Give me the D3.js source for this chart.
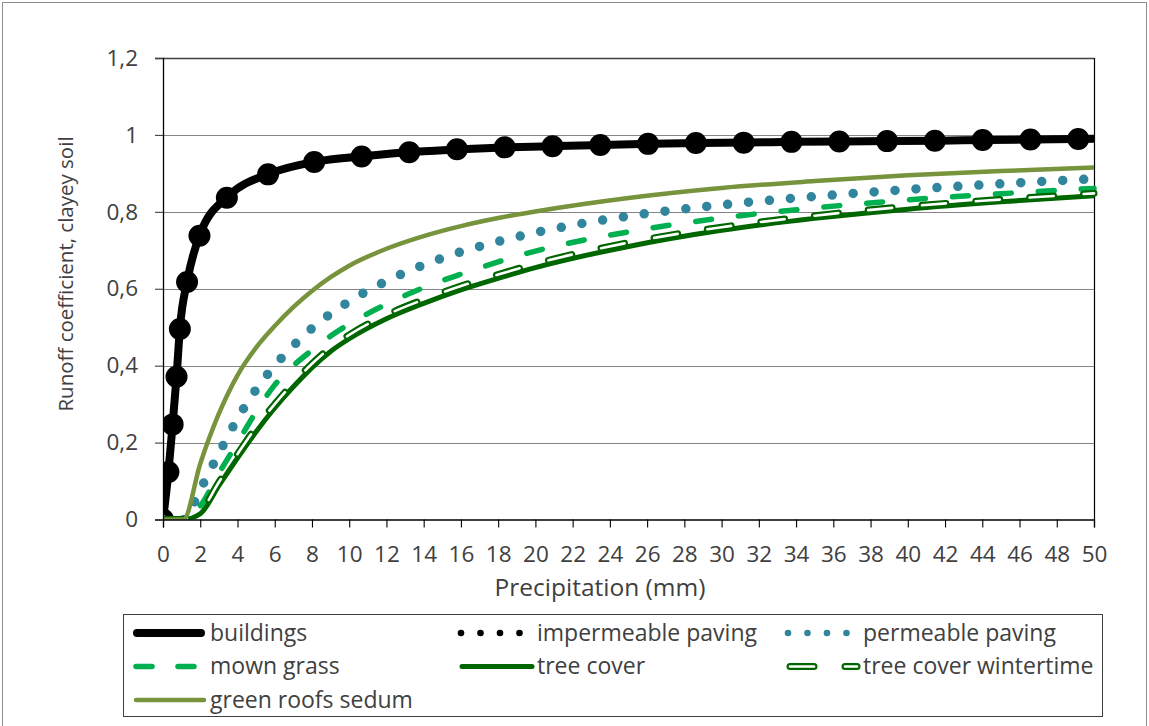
<!DOCTYPE html>
<html><head><meta charset="utf-8">
<script src="https://cdn.jsdelivr.net/npm/d3@7"></script>
<style>
html,body{margin:0;padding:0;background:#fff;}
svg{display:block;font-family:"Open Sans",sans-serif;}
</style></head>
<body>
<svg id="chart" width="1149" height="726"></svg>
<script>
// ---- data ----
const buildingsX = [0, 0.29, 0.52, 0.73, 0.91, 1.31, 1.99, 3.54, 5.78, 8.29, 10.9, 13.5, 16, 18.6, 21.2, 23.7, 26.3, 28.8, 31.4, 33.9, 36.5, 39.1, 41.7, 44.2, 46.8, 50];
const buildingsY = [0, 0.123, 0.249, 0.373, 0.498, 0.622, 0.742, 0.842, 0.900, 0.931, 0.945, 0.956, 0.963, 0.968, 0.971, 0.974, 0.977, 0.979, 0.980, 0.982, 0.983, 0.984, 0.985, 0.987, 0.988, 0.990];
const impermeableY = buildingsY.slice();
const precip = [0, 1.1, 2, 3, 4, 5, 6, 7, 8, 9, 10, 12, 14, 16, 18, 20, 25, 30, 35, 40, 45, 50];
const permeableY = [0, 0, 0.078, 0.172, 0.262, 0.338, 0.40, 0.452, 0.497, 0.535, 0.567, 0.62, 0.662, 0.696, 0.723, 0.746, 0.789, 0.818, 0.84, 0.858, 0.873, 0.886];
const grassY = [0, 0, 0.035, 0.12, 0.20, 0.28, 0.35, 0.40, 0.44, 0.477, 0.508, 0.56, 0.603, 0.638, 0.67, 0.698, 0.748, 0.784, 0.81, 0.831, 0.847, 0.861];
const treeY = [0, 0, 0.015, 0.088, 0.16, 0.228, 0.29, 0.345, 0.395, 0.437, 0.47, 0.522, 0.562, 0.597, 0.627, 0.655, 0.71, 0.752, 0.783, 0.807, 0.826, 0.842];
const winterY = [0, 0, 0.02, 0.097, 0.17, 0.24, 0.30, 0.355, 0.405, 0.447, 0.48, 0.532, 0.572, 0.607, 0.637, 0.665, 0.72, 0.76, 0.79, 0.814, 0.832, 0.848];
const sedumY = [0, 0, 0.145, 0.275, 0.375, 0.447, 0.503, 0.552, 0.594, 0.63, 0.66, 0.704, 0.737, 0.763, 0.784, 0.801, 0.836, 0.862, 0.88, 0.895, 0.906, 0.915];
const xTicks = d3.range(0, 51, 2);
const yTicks = [0, 0.2, 0.4, 0.6, 0.8, 1, 1.2];
const yTickLabels = ["0", "0,2", "0,4", "0,6", "0,8", "1", "1,2"];
const legendNames = ["buildings", "impermeable paving", "permeable paving", "mown grass", "tree cover", "tree cover wintertime", "green roofs sedum"];

// ---- layout ----
const svg = d3.select("#chart");
const L = 163, R = 1094, T = 58, B = 519.5;
const x = d3.scaleLinear().domain([0, 50]).range([L, R]);
const y = d3.scaleLinear().domain([0, 1.2]).range([B, T]);
const txt = "#404040";

svg.append("rect").attr("x", 2.5).attr("y", 2.5).attr("width", 1144).attr("height", 740)
  .attr("fill", "#fff").attr("stroke", "#8c8c8c").attr("stroke-width", 1);

// gridlines
svg.append("g").selectAll("line").data(yTicks.filter(d => d > 0)).join("line")
  .attr("x1", L).attr("x2", R).attr("y1", d => Math.round(y(d)) + 0.5).attr("y2", d => Math.round(y(d)) + 0.5)
  .attr("stroke", d => d === 1.2 ? "#404040" : "#868686").attr("stroke-width", d => d === 1.2 ? 1.5 : 1.2);
// right border
svg.append("line").attr("x1", R + 0.5).attr("x2", R + 0.5).attr("y1", T).attr("y2", B).attr("stroke", "#000").attr("stroke-width", 1.2);

svg.append("defs").append("clipPath").attr("id", "clip").append("rect")
  .attr("x", L).attr("y", 30).attr("width", R - L + 12).attr("height", B - 30);
const plot = svg.append("g").attr("clip-path", "url(#clip)");

const lineXY = (xs, ys) => d3.line().x((d, i) => x(xs[i])).y(d => y(d)).curve(d3.curveMonotoneX)(ys);

// buildings
plot.append("path").attr("d", lineXY(buildingsX, buildingsY)).attr("fill", "none")
  .attr("stroke", "#000").attr("stroke-width", 8).attr("stroke-linejoin", "round");
// impermeable paving (big round dots)
plot.append("path").attr("d", lineXY(buildingsX, impermeableY)).attr("fill", "none")
  .attr("stroke", "#000").attr("stroke-width", 22).attr("stroke-linecap", "round").attr("stroke-dasharray", "0 47.8");
// permeable paving
plot.append("path").attr("d", lineXY(precip, permeableY)).attr("fill", "none")
  .attr("stroke", "#31859c").attr("stroke-width", 9.5).attr("stroke-linecap", "round").attr("stroke-dasharray", "0 21");
// mown grass
plot.append("path").attr("d", lineXY(precip, grassY)).attr("fill", "none")
  .attr("stroke", "#00b050").attr("stroke-width", 5.5).attr("stroke-linecap", "round").attr("stroke-dasharray", "16 27");
// tree cover
plot.append("path").attr("d", lineXY(precip, treeY)).attr("fill", "none")
  .attr("stroke", "#006600").attr("stroke-width", 5).attr("stroke-linejoin", "round");
// tree cover wintertime (hollow dashes)
plot.append("path").attr("d", lineXY(precip, winterY)).attr("fill", "none")
  .attr("stroke", "#006600").attr("stroke-width", 7).attr("stroke-linecap", "round").attr("stroke-dasharray", "24 30");
plot.append("path").attr("d", lineXY(precip, winterY)).attr("fill", "none")
  .attr("stroke", "#fff").attr("stroke-width", 2.6).attr("stroke-linecap", "round").attr("stroke-dasharray", "24 30");
// green roofs sedum
plot.append("path").attr("d", lineXY(precip, sedumY)).attr("fill", "none")
  .attr("stroke", "#77933c").attr("stroke-width", 4.5).attr("stroke-linejoin", "round");

// axes
const xAxis = svg.append("g").attr("transform", `translate(0,${B})`)
  .call(d3.axisBottom(x).tickValues(xTicks).tickSize(8).tickPadding(19).tickFormat(d3.format("d")));
xAxis.select(".domain").attr("stroke", "#000").attr("stroke-width", 1.3);
xAxis.selectAll(".tick line").attr("stroke", "#000").attr("stroke-width", 1.1);
xAxis.selectAll(".tick text").attr("fill", txt).attr("font-size", 22.5).attr("font-family", "Open Sans");

const yAxis = svg.append("g").attr("transform", `translate(${L},0)`)
  .call(d3.axisLeft(y).tickValues(yTicks).tickSize(8).tickPadding(17).tickFormat((d, i) => yTickLabels[i]));
yAxis.select(".domain").attr("stroke", "#000").attr("stroke-width", 1.3);
yAxis.selectAll(".tick line").attr("stroke", "#404040").attr("stroke-width", 1.1);
yAxis.selectAll(".tick text").attr("fill", txt).attr("font-size", 22.5).attr("font-family", "Open Sans");

svg.append("text").attr("x", 600).attr("y", 596).attr("text-anchor", "middle")
  .attr("fill", txt).attr("font-size", 24.5).text("Precipitation (mm)");
svg.append("text").attr("transform", `translate(73,274) rotate(-90)`).attr("text-anchor", "middle")
  .attr("fill", txt).attr("font-size", 20.5).text("Runoff coefficient, clayey soil");

// legend
const lg = svg.append("g");
lg.append("rect").attr("x", 123.5).attr("y", 614.5).attr("width", 979).attr("height", 102)
  .attr("fill", "#fff").attr("stroke", "#404040").attr("stroke-width", 1);
const rows = [633, 666.5, 700];
const items = [
  {name: legendNames[0], col: 0, row: 0},
  {name: legendNames[1], col: 1, row: 0},
  {name: legendNames[2], col: 2, row: 0},
  {name: legendNames[3], col: 0, row: 1},
  {name: legendNames[4], col: 1, row: 1},
  {name: legendNames[5], col: 2, row: 1},
  {name: legendNames[6], col: 0, row: 2}
];
const symX = [133, 460, 787];
const textX = [210, 537, 863];
items.forEach((it, i) => {
  const yy = rows[it.row], sx = symX[it.col];
  const g = lg.append("g");
  if (i === 0) {
    g.append("line").attr("x1", sx + 4).attr("x2", sx + 68).attr("y1", yy).attr("y2", yy)
      .attr("stroke", "#000").attr("stroke-width", 8).attr("stroke-linecap", "round");
  } else if (i === 1 || i === 2) {
    g.selectAll("circle").data([0, 1, 2, 3]).join("circle")
      .attr("cx", d => sx + 1 + d * 19.5).attr("cy", yy).attr("r", 3.3)
      .attr("fill", i === 1 ? "#000" : "#31859c");
  } else if (i === 3) {
    [0, 1].forEach(k => g.append("line").attr("x1", sx + 3 + k * 42).attr("x2", sx + 19 + k * 42)
      .attr("y1", yy).attr("y2", yy).attr("stroke", "#00b050").attr("stroke-width", 5.5).attr("stroke-linecap", "round"));
  } else if (i === 4) {
    g.append("line").attr("x1", sx + 2).attr("x2", sx + 72).attr("y1", yy).attr("y2", yy)
      .attr("stroke", "#006600").attr("stroke-width", 5).attr("stroke-linecap", "round");
  } else if (i === 5) {
    [[sx + 3, sx + 27], [sx + 58, sx + 70]].forEach(([a, b]) => {
      g.append("line").attr("x1", a).attr("x2", b).attr("y1", yy).attr("y2", yy)
        .attr("stroke", "#006600").attr("stroke-width", 7).attr("stroke-linecap", "round");
      g.append("line").attr("x1", a).attr("x2", b).attr("y1", yy).attr("y2", yy)
        .attr("stroke", "#fff").attr("stroke-width", 2.6).attr("stroke-linecap", "round");
    });
  } else if (i === 6) {
    g.append("line").attr("x1", sx + 3).attr("x2", sx + 71).attr("y1", yy).attr("y2", yy)
      .attr("stroke", "#77933c").attr("stroke-width", 4.5).attr("stroke-linecap", "round");
  }
  g.append("text").attr("x", textX[it.col]).attr("y", yy).attr("dy", "0.33em")
    .attr("fill", txt).attr("font-size", 23).text(it.name);
});
</script>
</body></html>
